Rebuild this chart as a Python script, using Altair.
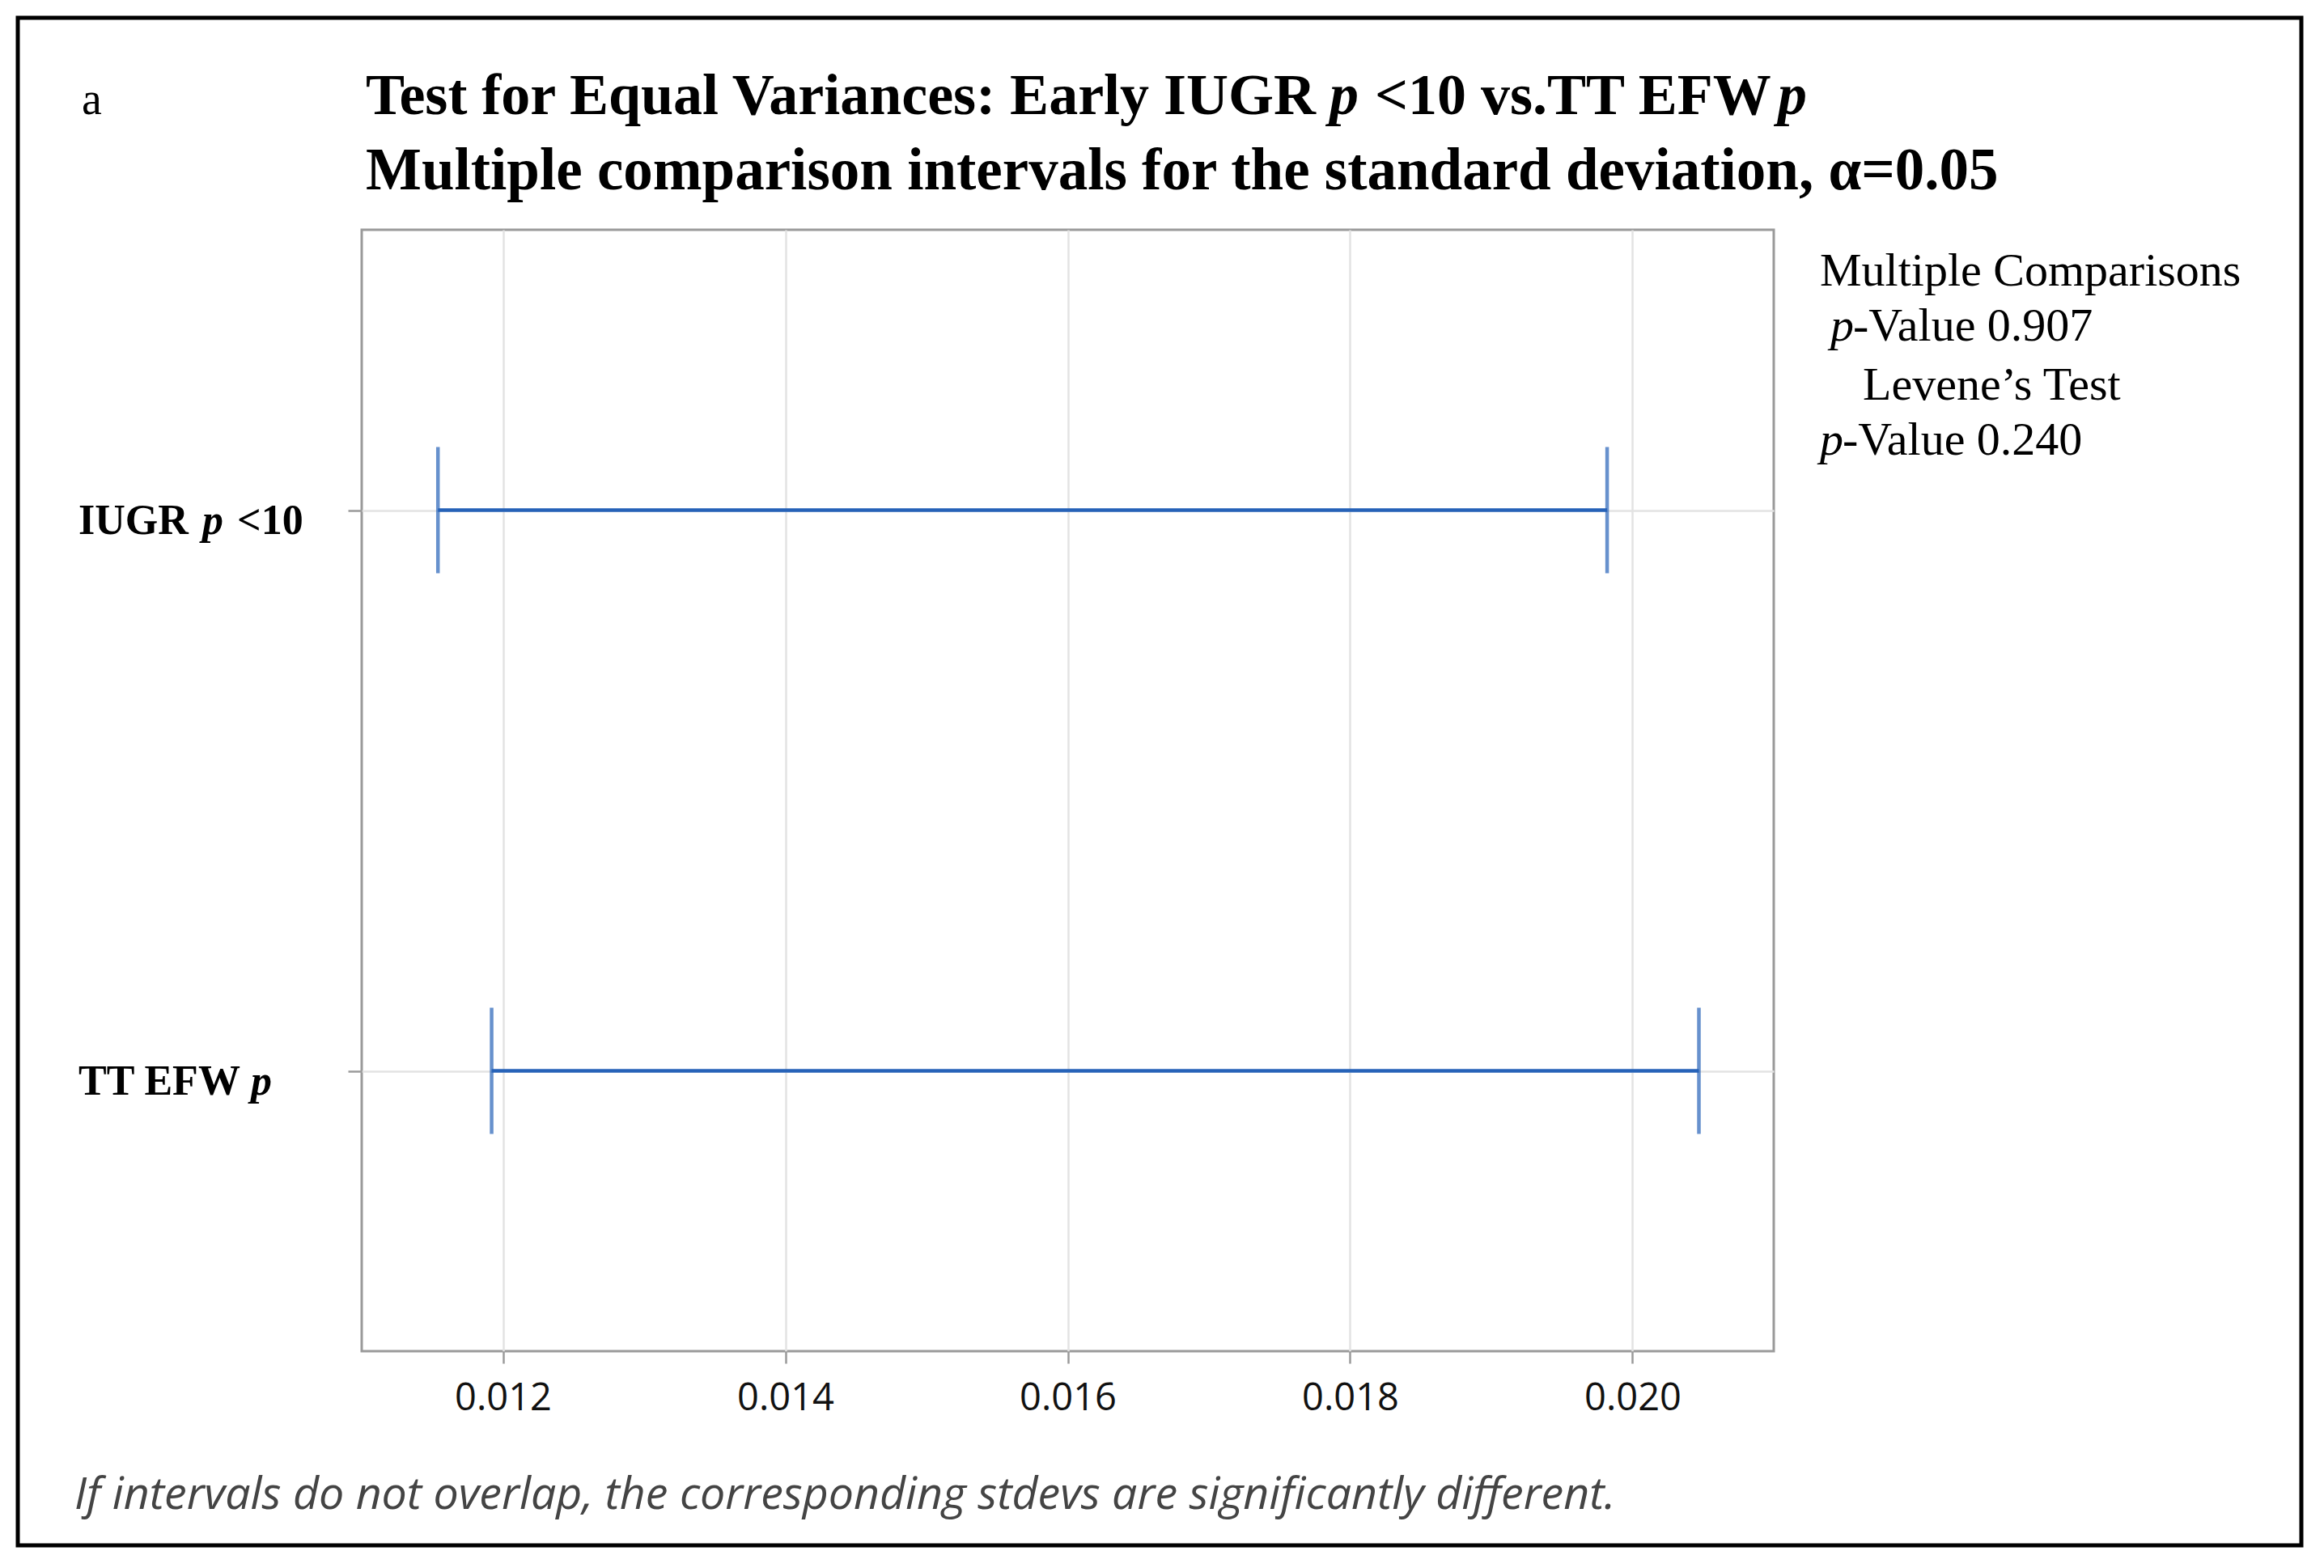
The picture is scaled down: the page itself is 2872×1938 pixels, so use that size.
import altair as alt
import pandas as pd

# ---- data ----
groups = ["IUGR p <10", "TT EFW p"]
label_prefix = ["IUGR", "TT EFW"]
label_suffix = ["<10", ""]
lower = [0.01154, 0.01192]
upper = [0.01982, 0.02047]
x_ticks = [0.012, 0.014, 0.016, 0.018, 0.020]
x_domain = [0.011, 0.021]

title1_parts = ["Test for Equal Variances: Early IUGR", "p", "<10 vs.TT EFW", "p"]
title_line2 = "Multiple comparison intervals for the standard deviation, α=0.05"
side_line1 = "Multiple Comparisons"
side_p1 = ["p", "-Value 0.907"]
side_line3 = "Levene’s Test"
side_p2 = ["p", "-Value 0.240"]
footnote = "If intervals do not overlap, the corresponding stdevs are significantly different."
panel_letter = "a"

df = pd.DataFrame({"group": groups, "lower": lower, "upper": upper,
                   "prefix": label_prefix, "suffix": label_suffix})

W, H = 1745, 1386
BLUE = "#2662B8"
SERIF = "Liberation Serif"

xscale = alt.Scale(domain=x_domain, nice=False, zero=False)
yscale = alt.Scale(type="point", padding=0.5, domain=groups)

xaxis = alt.Axis(values=x_ticks, format=".3f", title=None, grid=True,
                 labelFont="Open Sans", labelFontSize=47, labelColor="#111111",
                 tickColor="#9a9a9a", tickSize=15, tickWidth=2.5, labelPadding=20,
                 gridColor="#e3e3e3", gridWidth=2.5, domain=False)
yaxis = alt.Axis(title=None, grid=True, labels=False, tickColor="#9a9a9a",
                 tickSize=17, tickWidth=2.5, gridColor="#e3e3e3", gridWidth=2.5,
                 domain=False)

base = alt.Chart(df)
rule = base.mark_rule(color=BLUE, strokeWidth=4.5).encode(
    x=alt.X("lower:Q", scale=xscale, axis=xaxis),
    x2="upper:Q",
    y=alt.Y("group:N", scale=yscale, axis=yaxis),
)
tick_lo = base.mark_tick(color=BLUE, thickness=4.5, size=156, orient="vertical").encode(
    x=alt.X("lower:Q", scale=xscale), y=alt.Y("group:N", scale=yscale))
tick_hi = base.mark_tick(color=BLUE, thickness=4.5, size=156, orient="vertical").encode(
    x=alt.X("upper:Q", scale=xscale), y=alt.Y("group:N", scale=yscale))

# category labels (bold, with italic p) placed through the y scale
LAB = dict(font=SERIF, fontWeight="bold", fontSize=52, color="#000000",
           align="left", baseline="alphabetic", dy=29)
lab_prefix = base.mark_text(**LAB).encode(
    text="prefix:N", x=alt.value(-350), y=alt.Y("group:N", scale=yscale))
lab_suffix = base.mark_text(**LAB).encode(
    text="suffix:N", x=alt.value(-154), y=alt.Y("group:N", scale=yscale))
P_X = {groups[0]: -197, groups[1]: -137}
lab_p = [
    base.transform_filter(alt.datum.group == g).mark_text(fontStyle="italic", **LAB).encode(
        text=alt.value("p"), x=alt.value(px), y=alt.Y("group:N", scale=yscale))
    for g, px in P_X.items()
]


def text_layer(txt, x, y, **kw):
    return alt.Chart(pd.DataFrame({"t": [txt]})).mark_text(
        align="left", baseline="alphabetic", **kw
    ).encode(text="t:N", x=alt.value(x), y=alt.value(y))


TB = dict(font=SERIF, fontWeight="bold", color="#000000")
title_x = [5, 1196, 1252, 1750]
title1 = [text_layer(t, x, -143, fontSize=72,
                     fontStyle=("italic" if t == "p" else "normal"), **TB)
          for t, x in zip(title1_parts, title_x)]
title2 = text_layer(title_line2, 5, -50, fontSize=73, **TB)
letter = text_layer(panel_letter, -346, -143, font=SERIF, fontSize=56, color="#000")

SR = dict(font=SERIF, fontSize=58, color="#000000")
sides = [
    text_layer(side_line1, 1802, 69, **SR),
    text_layer(side_p1[0], 1815, 137, fontStyle="italic", **SR),
    text_layer(side_p1[1], 1843, 137, **SR),
    text_layer(side_line3, 1855, 210, **SR),
    text_layer(side_p2[0], 1802, 278, fontStyle="italic", **SR),
    text_layer(side_p2[1], 1830, 278, **SR),
]
foot = text_layer(footnote, -355, 1581, font="Open Sans", fontStyle="italic",
                  fontSize=55.5, color="#444444")

frame = alt.Chart(pd.DataFrame({"t": [0]})).mark_rect(
    fillOpacity=0, stroke="#000000", strokeWidth=5
).encode(x=alt.value(-425), x2=alt.value(2397), y=alt.value(-262), y2=alt.value(1626))

chart = alt.layer(rule, tick_lo, tick_hi, lab_prefix, lab_suffix, *lab_p,
                  *title1, title2, letter, *sides, foot, frame).properties(
    width=W, height=H,
    autosize=alt.AutoSizeParams(type="none"),
    padding={"left": 439, "top": 276, "right": 666, "bottom": 258},
    background="white",
).configure_view(stroke="#9a9a9a", strokeWidth=3)

chart.save("out.html", embed_options={"renderer": "svg", "actions": False})
